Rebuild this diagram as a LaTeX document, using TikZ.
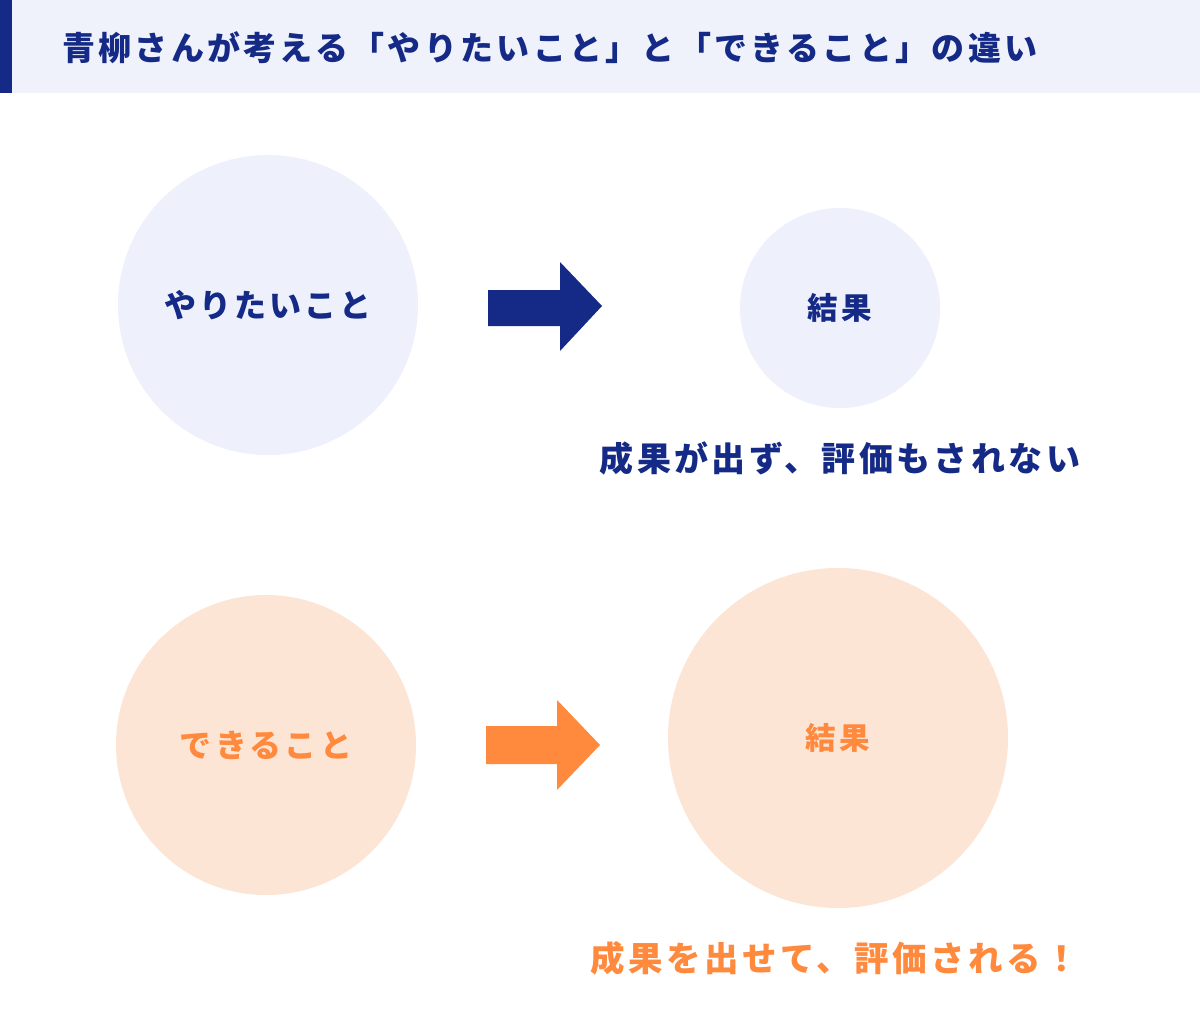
\documentclass[tikz,border=0pt]{standalone}
\usepackage{fontspec}
\newfontfamily\cjk[LetterSpace=10]{Noto Sans CJK JP}
\definecolor{navy}{HTML}{142A86}
\definecolor{titlebg}{HTML}{EFF2FB}
\definecolor{bluecirc}{HTML}{EEF1FC}
\definecolor{peach}{HTML}{FDE5D5}
\definecolor{orng}{HTML}{FF893D}
\tikzset{
  circ/.style={circle, inner sep=0pt},
  lbl/.style={font=\cjk\bfseries\fontsize{32}{36}\selectfont, inner sep=0pt},
  small/.style={font=\cjk\bfseries\fontsize{30.5}{34}\selectfont, inner sep=0pt},
}
\begin{document}
\begin{tikzpicture}[x=1pt,y=-1pt]
\useasboundingbox (0,0) rectangle (1200,1022);
\fill[white] (0,0) rectangle (1200,1022);
% title bar
\fill[titlebg] (0,0) rectangle (1200,93);
\fill[navy] (0,0) rectangle (12,93);
\node[font=\cjk\bfseries\fontsize{33}{37}\selectfont, text=navy, anchor=west, inner sep=0pt] (title) at (62,48) {青柳さんが考える「やりたいこと」と「できること」の違い};
% top row
\node[circ, fill=bluecirc, minimum size=300pt] (want) at (268,305) {};
\node[lbl, text=navy] (wantt) at (want.center) {やりたいこと};
\node[circ, fill=bluecirc, minimum size=200pt] (res1) at (840,308) {};
\node[small, text=navy] (res1t) at (res1.center) {結果};
\fill[navy] (488,290) -- (560,290) -- (560,262) -- (602,306) -- (560,351) -- (560,326) -- (488,326) -- cycle;
\node[font=\cjk\bfseries\fontsize{34}{38}\selectfont, text=navy, inner sep=0pt] (out1) at (840,458) {成果が出ず、評価もされない};
% bottom row
\node[circ, fill=peach, minimum size=300pt] (can) at (266,745) {};
\node[lbl, text=orng] (cant) at (can.center) {できること};
\node[circ, fill=peach, minimum size=340pt] (res2) at (838,738) {};
\node[small, text=orng] (res2t) at (res2.center) {結果};
\fill[orng] (486,726) -- (557,726) -- (557,700) -- (600,745) -- (557,790) -- (557,764) -- (486,764) -- cycle;
\node[font=\cjk\bfseries\fontsize{34.5}{38}\selectfont, text=orng, inner sep=0pt] (out2) at (835,958) {成果を出せて、評価される！};
\end{tikzpicture}
\end{document}
